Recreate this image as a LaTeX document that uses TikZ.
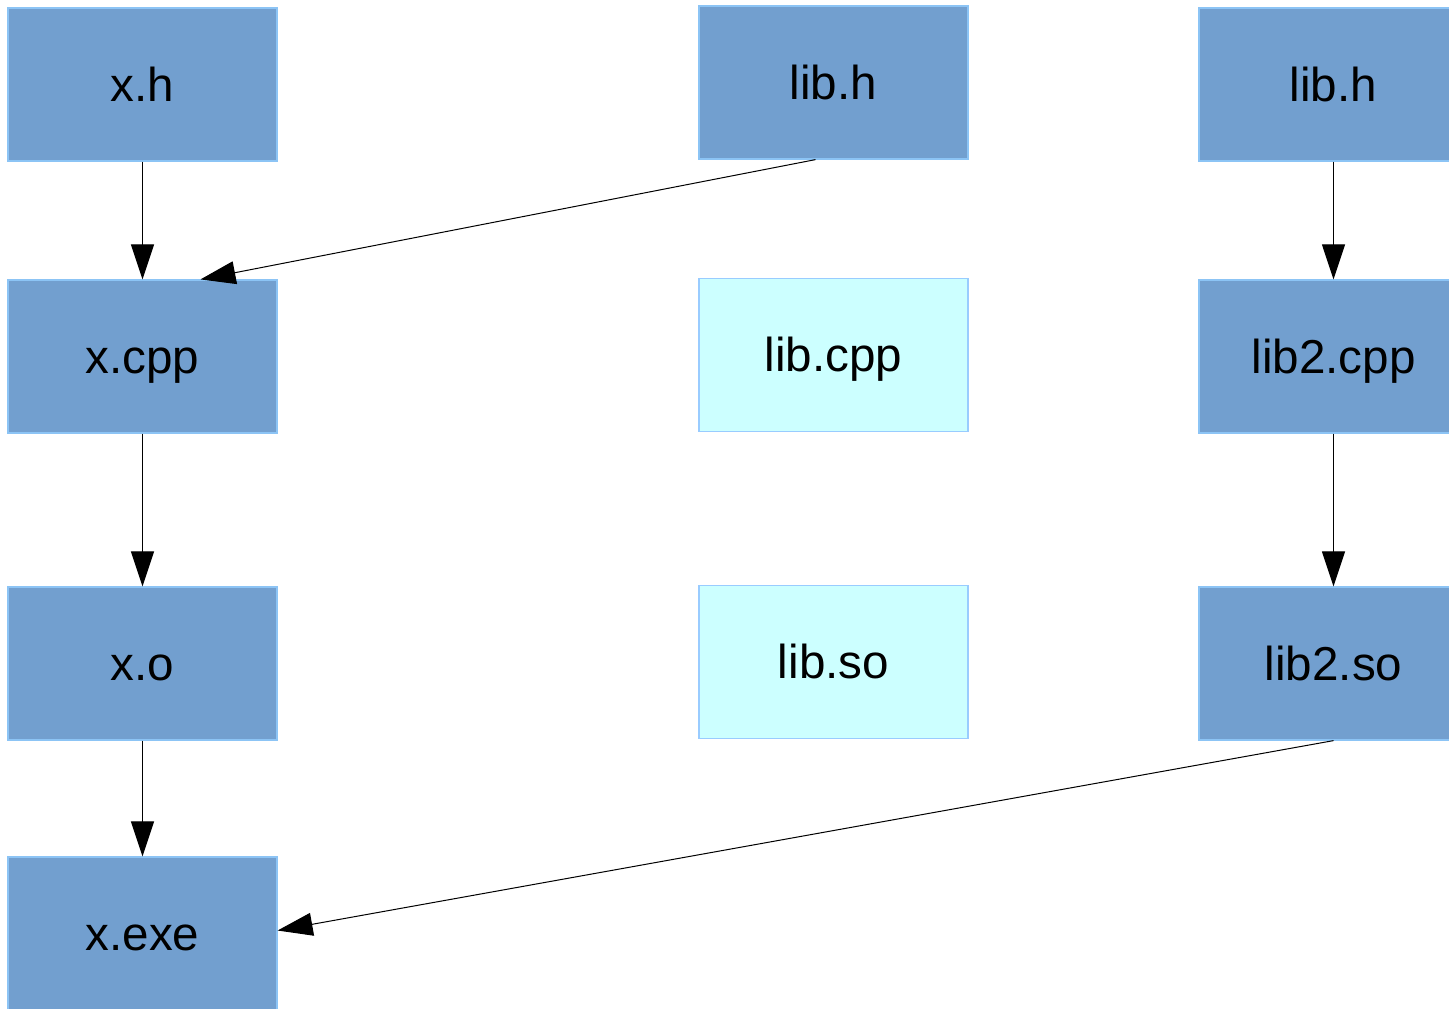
\documentclass[tikz,border=0pt]{standalone}
\usepackage{fontspec}
\setmainfont{Liberation Sans}
\usetikzlibrary{arrows.meta,calc}
\definecolor{boxblue}{HTML}{729FCF}
\definecolor{boxcyan}{HTML}{CCFFFF}
\definecolor{edgeblue}{HTML}{8CC4F5}
\definecolor{edgecyan}{HTML}{99CCFF}
\tikzset{
  file/.style={rectangle, minimum width=134.5pt, minimum height=76.5pt, inner sep=0pt,
    font=\fontsize{23.8}{28}\selectfont, text=black, line width=0.6pt,
    text height=16.8pt, text depth=0pt},
  built/.style={file, fill=boxblue, draw=edgeblue},
  unused/.style={file, fill=boxcyan, draw=edgecyan},
  dep/.style={draw=black, line width=0.5pt, -{Triangle[length=17.5pt,width=11.5pt]}}
}
\begin{document}
\begin{tikzpicture}[x=0.5pt,y=-0.5pt]
\useasboundingbox (0,0) rectangle (1449,1008);
\fill[white] (0,0) rectangle (1449,1008);
\clip (0,0) rectangle (1449,1008);
\node[built] (xh) at (142.5,84.5) {x.h};
\node[built] (libhm) at (833.5,82.5) {lib.h};
\node[built] (libhr) at (1333.5,84.5) {lib.h};
\node[built] (xcpp) at (142.5,356.5) {x.cpp};
\node[unused] (libcpp) at (833.5,355) {lib.cpp};
\node[built] (libtwocpp) at (1333.5,356.5) {lib2.cpp};
\node[built] (xo) at (142.5,663.5) {x.o};
\node[unused] (libso) at (833.5,662) {lib.so};
\node[built] (libtwoso) at (1333.5,663.5) {lib2.so};
\node[built] (xexe) at (142.5,933.5) {x.exe};
\draw[dep] (xh) -- (xcpp);
\draw[dep] ($(libhm.south)+(-18,0)$) -- ($(xcpp.north)+(58,0)$);
\draw[dep] (libhr) -- (libtwocpp);
\draw[dep] (xcpp) -- (xo);
\draw[dep] (libtwocpp) -- (libtwoso);
\draw[dep] (xo) -- (xexe);
\draw[dep] (libtwoso.south) -- ($(xexe.east)+(0,-3)$);
\end{tikzpicture}
\end{document}
